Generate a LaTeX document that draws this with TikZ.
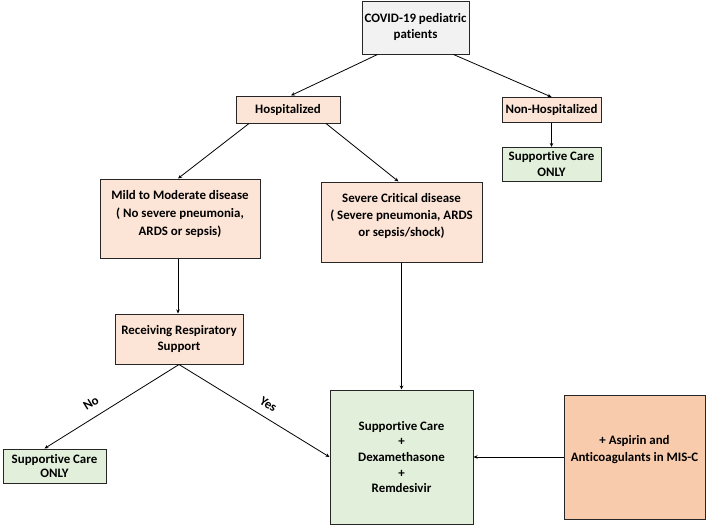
\documentclass[tikz,border=0pt]{standalone}
\usepackage{fontspec}
\setmainfont{Carlito}[Ligatures=NoCommon]
\usetikzlibrary{arrows.meta}
\definecolor{peach}{HTML}{FCE4D6}
\definecolor{mint}{HTML}{E2EFDA}
\definecolor{lgray}{HTML}{F2F2F2}
\definecolor{salmon}{HTML}{F8CBAD}
\begin{document}
\begin{tikzpicture}[x=1pt,y=-1pt,
  box/.style={draw=black!85,line width=1pt,inner sep=0pt,anchor=center},
  txt/.style={font=\bfseries\fontsize{12.9}{16}\selectfont,align=center,inner sep=0pt},
  arr/.style={-{Stealth[length=4pt,width=3.5pt]},line width=0.8pt,black},
  lbl/.style={font=\bfseries\fontsize{12.9}{14}\selectfont,inner sep=0pt}]
\useasboundingbox (0,0) rectangle (708,527);
% boxes
\node[box,fill=lgray,minimum width=107pt,minimum height=52pt] (top) at (415.5,28) {};
\node[txt] (toptxt) at (415.5,27) {COVID-19 pediatric\\patients};
\node[box,fill=peach,minimum width=104pt,minimum height=27pt,txt] (hosp) at (288,109.5) {Hospitalized};
\node[box,fill=peach,minimum width=99pt,minimum height=25pt,txt] (nonhosp) at (551.5,110) {Non-Hospitalized};
\node[box,fill=mint,minimum width=99pt,minimum height=34pt,txt] (supp1) at (551.5,164.5) {Supportive Care\\ONLY};
\node[box,fill=peach,minimum width=160pt,minimum height=79pt] (mild) at (180,218.5) {};
\node[txt,font=\bfseries\fontsize{12.9}{18}\selectfont] (mildtxt) at (180,214) {Mild to Moderate disease\\( No severe pneumonia,\\ARDS or sepsis)};
\node[box,fill=peach,minimum width=161pt,minimum height=80pt] (severe) at (401.5,222) {};
\node[txt,font=\bfseries\fontsize{12.9}{17}\selectfont] (severetxt) at (401.5,216) {Severe Critical disease\\( Severe pneumonia, ARDS\\or sepsis/shock)};
\node[box,fill=peach,minimum width=128pt,minimum height=50pt,txt] (resp) at (179,339) {Receiving Respiratory\\Support};
\node[box,fill=mint,minimum width=103pt,minimum height=34pt,txt,font=\bfseries\fontsize{12.9}{14.5}\selectfont] (supp2) at (54.5,466) {Supportive Care\\ONLY};
\node[box,fill=mint,minimum width=143pt,minimum height=134pt,txt,font=\bfseries\fontsize{12.9}{15.7}\selectfont] (main) at (401.5,457) {Supportive Care\\+\\Dexamethasone\\+\\Remdesivir};
\node[box,fill=salmon,minimum width=141pt,minimum height=124pt] (asp) at (634.5,457) {};
\node[txt,font=\bfseries\fontsize{12.9}{17}\selectfont] (asptxt) at (634.5,450) {+ Aspirin and\\Anticoagulants in MIS-C};
% connectors
\draw[arr] ([xshift=-38pt]top.south) -- ([xshift=3pt]hosp.north);
\draw[arr] ([xshift=38pt]top.south) -- (nonhosp.north);
\draw[arr] (nonhosp) -- (supp1);
\draw[arr] ([xshift=-39pt]hosp.south) -- ([xshift=-2pt]mild.north);
\draw[arr] ([xshift=38pt]hosp.south) -- ([xshift=-3pt]severe.north);
\draw[arr] ([xshift=-2pt]mild.south) -- ([xshift=-1pt]resp.north);
\draw[arr] (severe) -- (main);
\draw[arr] (resp.south) -- node[lbl,sloped,above=9pt,pos=0.6] {No} ([xshift=-10pt]supp2.north);
\draw[arr] (resp.south) -- node[lbl,sloped,above=8pt,pos=0.55] {Yes} (main.west);
\draw[arr] (asp.west) -- (main.east);
\end{tikzpicture}
\end{document}
